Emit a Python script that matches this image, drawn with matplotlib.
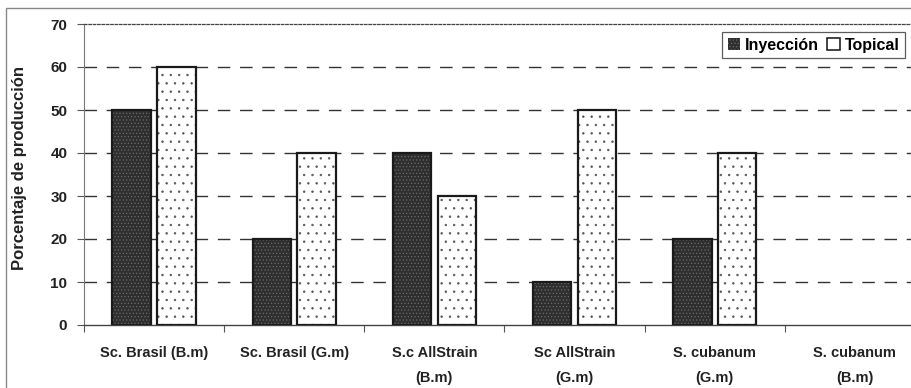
import matplotlib
matplotlib.use("Agg")
import matplotlib.pyplot as plt
import matplotlib.patches as mpatches
import numpy as np

categories = ["Sc. Brasil (B.m)", "Sc. Brasil (G.m)", "S.c AllStrain\n(B.m)",
              "Sc AllStrain\n(G.m)", "S. cubanum\n(G.m)", "S. cubanum\n(B.m)"]
inyeccion = [50, 20, 40, 10, 20, 0]
topical = [60, 40, 30, 50, 40, 0]
yticks = [0, 10, 20, 30, 40, 50, 60, 70]

plt.rcParams['font.family'] = ['Liberation Sans', 'DejaVu Sans']
plt.rcParams['font.weight'] = 'bold'
plt.rcParams['hatch.linewidth'] = 0.5

fig = plt.figure(figsize=(9.12, 3.88), dpi=100)
ax = fig.add_axes([84/912, 63/388, (925-84)/912, (325-24)/388])

x = np.arange(len(categories))
iny = np.array(inyeccion, dtype=float)
top = np.array(topical, dtype=float)
mi = iny > 0
mt = top > 0
w = 0.275
off = 0.16

dark_face = '#2f2f2f'
dark_hatch = '#6a6a6a'
light_face = 'white'
light_hatch = '#555555'

# fill with hatch
ax.bar((x - off)[mi], iny[mi], w, color=dark_face, edgecolor=dark_hatch, hatch='.....', linewidth=0, zorder=3)
ax.bar((x + off)[mt], top[mt], w, color=light_face, edgecolor=light_hatch, hatch='..', linewidth=0, zorder=3)
# outlines
ax.bar((x - off)[mi], iny[mi], w, fill=False, edgecolor='#1a1a1a', linewidth=1.6, zorder=4)
ax.bar((x + off)[mt], top[mt], w, fill=False, edgecolor='#1a1a1a', linewidth=1.6, zorder=4)

ax.set_xlim(-0.5, 5.5)
ax.set_ylim(0, 70)
ax.set_yticks(yticks)
ax.set_yticklabels([str(v) for v in yticks], fontsize=11, fontweight='bold', color='#222222')
ax.set_xticks(np.arange(-0.5, 6, 1.0), minor=False)
ax.set_xticklabels([])
ax.set_xticks(x, minor=True)
ax.set_xticklabels(categories, minor=True, fontsize=10.5, fontweight='bold', color='#222222',
                   linespacing=2.0)
ax.tick_params(axis='x', which='minor', length=0, pad=15)
ax.tick_params(axis='x', which='major', length=5, color='#555555', direction='out')
ax.tick_params(axis='y', length=5, color='#555555', direction='out', pad=7)

for v in yticks[1:-1]:
    ax.axhline(v, color='#333333', linewidth=1.0, linestyle=(0, (9, 7)), zorder=1)

ax.spines['top'].set_linestyle((0, (2, 1.5)))
ax.spines['top'].set_color('#444444')
ax.spines['top'].set_linewidth(0.9)
ax.spines['right'].set_visible(False)
ax.spines['left'].set_color('#777777')
ax.spines['left'].set_linewidth(0.8)
ax.spines['bottom'].set_color('#444444')
ax.spines['bottom'].set_linewidth(1.0)

ax.set_ylabel("Porcentaje de producción", fontsize=12, fontweight='bold', color='#222222')
ax.yaxis.set_label_coords(-0.068, 0.52)

h1 = mpatches.Patch(facecolor=dark_face, edgecolor=dark_hatch, hatch='.....', linewidth=0)
h2 = mpatches.Patch(facecolor='white', edgecolor='#222222', linewidth=1.2)
leg = ax.legend([h1, h2], ["Inyección", "Topical"], loc='upper left',
                bbox_to_anchor=((722-84)/841, (325-32)/301), ncol=2, frameon=True,
                fancybox=False, edgecolor='#333333', fontsize=11.5,
                handlelength=0.8, handleheight=0.8, handletextpad=0.3,
                columnspacing=0.5, borderpad=0.35, borderaxespad=0)
leg.get_frame().set_linewidth(0.9)
for t in leg.get_texts():
    t.set_fontweight('bold')

# outer chart border
border = mpatches.Rectangle((6/912, -0.2), 1.2, 1.2 - 8/388, transform=fig.transFigure,
                            fill=False, edgecolor='#888888', linewidth=1.0, clip_on=False)
fig.patches.append(border)

fig.savefig("out.png", dpi=100)
